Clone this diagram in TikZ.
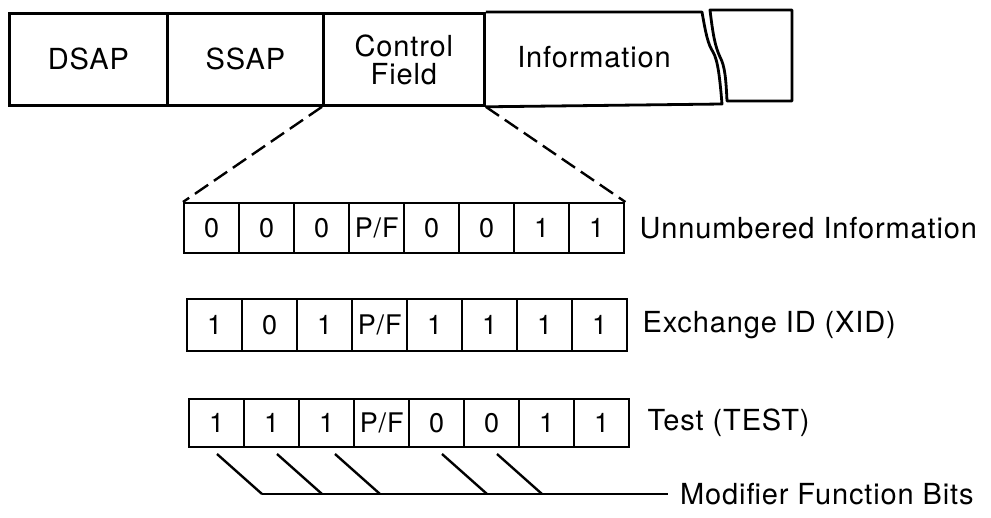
\documentclass[tikz,border=0pt]{standalone}
\usepackage{fontspec}
\setmainfont[LetterSpace=3]{TeX Gyre Heros}
\begin{document}
\begin{tikzpicture}[x=1pt,y=-1pt,
  every node/.style={font=\fontsize{29}{32}\selectfont},
  field/.style={draw, line width=2.8pt, minimum height=92pt, inner sep=0pt, align=center, anchor=north west},
  cell/.style={draw, line width=2.4pt, minimum width=55pt, inner sep=0pt, anchor=north west,
    font=\fontsize{27}{30}\selectfont},
  lbl/.style={anchor=west, inner sep=0pt},
  rule/.style={line width=2.4pt},
  frame/.style={line width=2.8pt, line join=round},
  link/.style={line width=2.4pt, dash pattern=on 16pt off 7pt}]
\useasboundingbox (0,0) rectangle (991,517);

% LLC header fields
\node[field, minimum width=158pt] (dsap) at (8,12) {DSAP};
\node[field, minimum width=156pt] (ssap) at (166,12) {SSAP};
\node[field, minimum width=161pt] (ctrl) at (322,12) {Control\\[-4pt]Field};

% information field with a break symbol
\coordinate (ia) at (702,12);
\coordinate (ib) at (722,104);
\coordinate (ja) at (710,10);
\coordinate (jb) at (727,101);
\coordinate (jc) at (792,10);
\coordinate (jd) at (792,101);
\draw[frame] (ctrl.north east) -- (ia)
  .. controls (706,35) and (708,44) .. (713,52)
  .. controls (718,60) and (720,80) .. (ib) -- (ctrl.south east);
\draw[frame] (jb) .. controls (726,80) and (725,66) .. (720,57)
  .. controls (715,46) and (713,35) .. (ja) -- (jc) -- (jd) -- cycle;
\node (info) at (594,57) {Information};

% bit patterns of the control field
\foreach \v [count=\c] in {0,0,0,P/F,0,0,1,1}
  \node[cell, minimum height=50pt] (ra\c) at (183+55*\c-55,202) {\v};
\foreach \v [count=\c] in {1,0,1,P/F,1,1,1,1}
  \node[cell, minimum height=52pt] (rb\c) at (186+55*\c-55,298) {\v};
\foreach \v [count=\c] in {1,1,1,P/F,0,0,1,1}
  \node[cell, minimum height=48pt] (rc\c) at (188+55*\c-55,398) {\v};

\node[lbl] (la) at ([xshift=14pt]ra8.east) {Unnumbered Information};
\node[lbl] (lb) at ([xshift=14pt]rb8.east) {Exchange ID (XID)};
\node[lbl] (lc) at ([xshift=17pt]rc8.east) {Test (TEST)};

% expansion of the control field
\draw[link] (ctrl.south west) -- (ra1.north west);
\draw[link] (ctrl.south east) -- (ra8.north east);

% modifier function bits
\node[lbl] (mod) at (680,494) {Modifier Function Bits};
\coordinate (m0) at (262,494);
\coordinate (m1) at (322,494);
\coordinate (m2) at (380,494);
\coordinate (m3) at (487,494);
\coordinate (m4) at (542,494);
\coordinate (s0) at (217,454);
\coordinate (s1) at (277,454);
\coordinate (s2) at (335,454);
\coordinate (s3) at (442,454);
\coordinate (s4) at (497,454);
\foreach \k in {0,...,4}
  \draw[rule] (s\k) -- (m\k);
\draw[rule] (m0) -- ([xshift=-12pt]mod.west);
\end{tikzpicture}
\end{document}
